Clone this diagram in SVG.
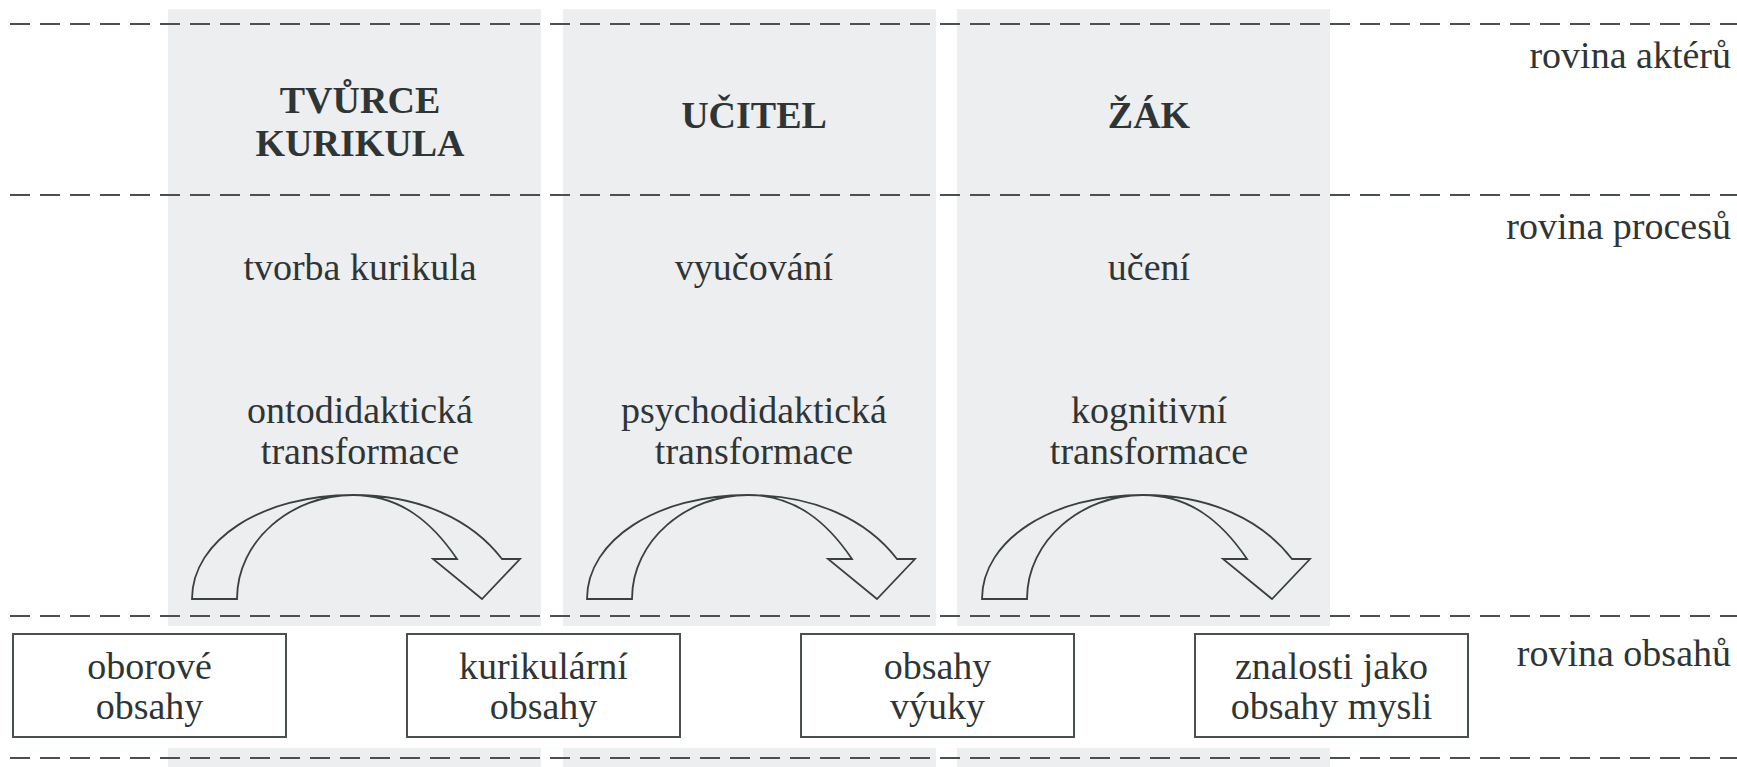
<svg xmlns="http://www.w3.org/2000/svg" width="1737" height="767" viewBox="0 0 1737 767">
<style>
.col{fill:#eceef0}
.dash{stroke:#4a4f50;stroke-width:2.2;stroke-dasharray:20 10;fill:none}
.t{font-family:"Liberation Serif","Times New Roman",serif;font-size:38px;fill:#2f3535;text-anchor:middle}
.b{font-weight:bold}
.r{text-anchor:end}
.box{fill:#fff;stroke:#4a4f50;stroke-width:2}
.arr{fill:none;stroke:#3a3f40;stroke-width:1.8;stroke-linejoin:miter}
</style>
<defs>
<path id="arrow" d="M192 599 C192 540 262 495 353 495 C420 495 472 520 502 559 L520 559 L482 599 L433 559 L457 559 C432 522 400 495 353 495 C292 495 237 540 237 599 Z"/>
</defs>
<rect width="1737" height="767" fill="#fff"/>
<g id="columns">
<rect class="col" x="168" y="9" width="373" height="617"/>
<rect class="col" x="563" y="9" width="373" height="617"/>
<rect class="col" x="957" y="9" width="373" height="617"/>
<rect class="col" x="168" y="748" width="373" height="19"/>
<rect class="col" x="563" y="748" width="373" height="19"/>
<rect class="col" x="957" y="748" width="373" height="19"/>
</g>
<g id="planes">
<line class="dash" x1="10" y1="24" x2="1737" y2="24"/>
<line class="dash" x1="10" y1="195" x2="1737" y2="195"/>
<line class="dash" x1="10" y1="616" x2="1737" y2="616"/>
<line class="dash" x1="10" y1="758" x2="1737" y2="758"/>
<text class="t r" x="1731" y="68">rovina aktérů</text>
<text class="t r" x="1731" y="239">rovina procesů</text>
<text class="t r" x="1731" y="666">rovina obsahů</text>
</g>
<g id="actor-tvurce">
<text class="t b" x="360" y="113">TVŮRCE</text>
<text class="t b" x="360" y="156">KURIKULA</text>
</g>
<g id="actor-ucitel"><text class="t b" x="754" y="128">UČITEL</text></g>
<g id="actor-zak"><text class="t b" x="1149" y="128">ŽÁK</text></g>
<g id="process-tvorba"><text class="t" x="360" y="280">tvorba kurikula</text></g>
<g id="process-vyucovani"><text class="t" x="754" y="280">vyučování</text></g>
<g id="process-uceni"><text class="t" x="1149" y="280">učení</text></g>
<g id="transf-onto">
<text class="t" x="360" y="423">ontodidaktická</text>
<text class="t" x="360" y="464">transformace</text>
</g>
<g id="transf-psycho">
<text class="t" x="754" y="423">psychodidaktická</text>
<text class="t" x="754" y="464">transformace</text>
</g>
<g id="transf-kog">
<text class="t" x="1149" y="423">kognitivní</text>
<text class="t" x="1149" y="464">transformace</text>
</g>
<g id="connectors">
<use href="#arrow" class="arr"/>
<use href="#arrow" class="arr" transform="translate(395,0)"/>
<use href="#arrow" class="arr" transform="translate(790,0)"/>
</g>
<g id="content-oborove">
<rect class="box" x="13" y="634" width="273" height="103"/>
<text class="t" x="149.5" y="679">oborové</text>
<text class="t" x="149.5" y="719">obsahy</text>
</g>
<g id="content-kurikularni">
<rect class="box" x="407" y="634" width="273" height="103"/>
<text class="t" x="543.5" y="679">kurikulární</text>
<text class="t" x="543.5" y="719">obsahy</text>
</g>
<g id="content-vyuka">
<rect class="box" x="801" y="634" width="273" height="103"/>
<text class="t" x="937.5" y="679">obsahy</text>
<text class="t" x="937.5" y="719">výuky</text>
</g>
<g id="content-znalosti">
<rect class="box" x="1195" y="634" width="273" height="103"/>
<text class="t" x="1331.5" y="679">znalosti jako</text>
<text class="t" x="1331.5" y="719">obsahy mysli</text>
</g>
</svg>
